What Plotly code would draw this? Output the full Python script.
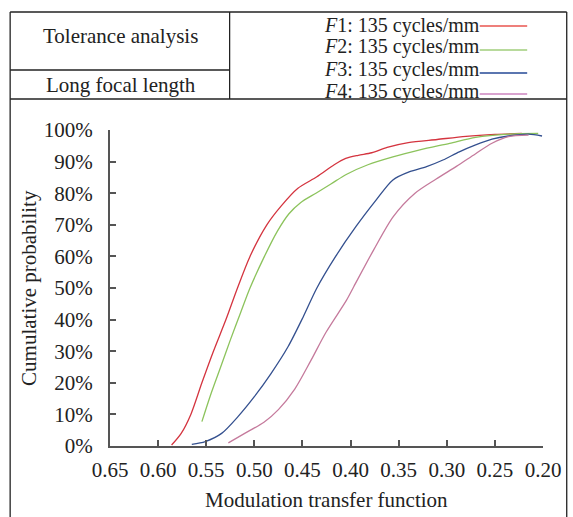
import plotly.graph_objects as go

# ---- data ----
f1_x = [0.586, 0.576, 0.566, 0.5545, 0.5425, 0.5295, 0.5175, 0.5045, 0.487, 0.472, 0.455,
        0.435, 0.417, 0.405, 0.392, 0.378, 0.362, 0.340, 0.310, 0.280, 0.250, 0.222]
f1_y = [0.3, 4.0, 10.0, 20.0, 30.0, 40.0, 50.0, 60.0, 70.0, 76.0, 81.5,
        85.2, 89.0, 91.0, 92.0, 92.8, 94.5, 96.0, 97.0, 98.0, 98.6, 98.9]

f2_x = [0.5545, 0.5445, 0.535, 0.525, 0.5145, 0.5045, 0.4895, 0.476, 0.464, 0.452, 0.436,
        0.420, 0.404, 0.382, 0.356, 0.328, 0.297, 0.270, 0.236, 0.205]
f2_y = [7.7, 17.0, 25.0, 33.5, 42.0, 50.0, 60.0, 68.0, 73.5, 77.0, 80.0,
        83.0, 86.0, 89.0, 91.5, 93.7, 95.8, 97.7, 98.7, 98.9]

f3_x = [0.565, 0.551, 0.534, 0.517, 0.500, 0.4825, 0.465, 0.449, 0.435, 0.4155, 0.3945,
        0.3735, 0.356, 0.3385, 0.321, 0.304, 0.287, 0.270, 0.253, 0.236, 0.215, 0.201]
f3_y = [0.5, 1.4, 4.0, 9.3, 15.6, 23.0, 31.4, 41.0, 50.0, 60.0, 69.4,
        77.8, 84.2, 86.8, 88.4, 90.5, 93.1, 95.3, 97.1, 98.1, 98.7, 98.1]

f4_x = [0.527, 0.510, 0.490, 0.475, 0.458, 0.4413, 0.4255, 0.4045, 0.3967, 0.3761, 0.3556,
        0.333, 0.311, 0.290, 0.270, 0.253, 0.236, 0.215]
f4_y = [1.0, 4.0, 7.5, 11.5, 18.0, 27.0, 36.0, 46.0, 50.4, 62.0, 72.6,
        80.0, 84.5, 88.5, 92.5, 95.8, 97.9, 98.4]

x_ticks = [0.65, 0.60, 0.55, 0.50, 0.45, 0.40, 0.35, 0.30, 0.25, 0.20]
x_tick_labels = ["0.65", "0.60", "0.55", "0.50", "0.45", "0.40", "0.35", "0.30", "0.25", "0.20"]
y_ticks = [0, 10, 20, 30, 40, 50, 60, 70, 80, 90, 100]
y_tick_labels = [f"{v}%" for v in y_ticks]

series_names = ["<i>F</i>1: 135 cycles/mm", "<i>F</i>2: 135 cycles/mm",
                "<i>F</i>3: 135 cycles/mm", "<i>F</i>4: 135 cycles/mm"]
curve_colors = ["#d4343f", "#8cc35c", "#34508f", "#c57a9c"]
legend_colors = ["#ee7f7b", "#b8da9c", "#5b76b0", "#d9a3cf"]

# ---- layout geometry (pixels) ----
FW, FH = 573, 517
L, T, W, H = 110, 130, 438, 316
FONT = "Liberation Serif"
INK = "#222222"


def X(px):
    return (px - L) / W


def Y(py):
    return (T + H - py) / H


fig = go.Figure()
for xs, ys, c, n in zip([f1_x, f2_x, f3_x, f4_x], [f1_y, f2_y, f3_y, f4_y], curve_colors, series_names):
    fig.add_trace(go.Scatter(x=xs, y=ys, mode="lines", name=n,
                             line=dict(color=c, width=1.3, shape="spline", smoothing=0.8),
                             showlegend=False))

shapes = []
box_line = dict(color=INK, width=1.3)
shapes.append(dict(type="line", xref="paper", yref="paper", x0=X(9), x1=X(572), y0=Y(12), y1=Y(12), line=box_line))
shapes.append(dict(type="line", xref="paper", yref="paper", x0=X(9), x1=X(572), y0=Y(99), y1=Y(99), line=box_line))
shapes.append(dict(type="line", xref="paper", yref="paper", x0=X(9), x1=X(231), y0=Y(70), y1=Y(70), line=box_line))
shapes.append(dict(type="line", xref="paper", yref="paper", x0=X(231), x1=X(231), y0=Y(12), y1=Y(99), line=box_line))
shapes.append(dict(type="line", xref="paper", yref="paper", x0=X(9), x1=X(9), y0=Y(12), y1=Y(520), line=box_line))
shapes.append(dict(type="line", xref="paper", yref="paper", x0=X(572), x1=X(572), y0=Y(12), y1=Y(520), line=box_line))

annotations = []
annotations.append(dict(text="Tolerance analysis", xref="paper", yref="paper", x=X(121), y=Y(36),
                        showarrow=False, xanchor="center", yanchor="middle",
                        font=dict(family=FONT, size=21, color=INK)))
annotations.append(dict(text="Long focal length", xref="paper", yref="paper", x=X(121), y=Y(85),
                        showarrow=False, xanchor="center", yanchor="middle",
                        font=dict(family=FONT, size=21, color=INK)))

line_ys = [26, 50, 73, 94]
text_ys = [25, 47, 69, 91]
for n, c, ly, ty in zip(series_names, legend_colors, line_ys, text_ys):
    annotations.append(dict(text=n, xref="paper", yref="paper", x=X(486), y=Y(ty),
                            showarrow=False, xanchor="right", yanchor="middle",
                            font=dict(family=FONT, size=20, color=INK)))
    shapes.append(dict(type="line", xref="paper", yref="paper", x0=X(484), x1=X(532),
                       y0=Y(ly), y1=Y(ly), line=dict(color=c, width=2.2)))

annotations.append(dict(text="Modulation transfer function", xref="paper", yref="paper",
                        x=X(329), y=Y(500), showarrow=False, xanchor="center", yanchor="middle",
                        font=dict(family=FONT, size=21, color=INK)))
annotations.append(dict(text="Cumulative probability", xref="paper", yref="paper",
                        x=X(28), y=Y(288), showarrow=False, xanchor="center", yanchor="middle",
                        textangle=-90, font=dict(family=FONT, size=21, color=INK)))

axis_color = "#555555"
fig.update_layout(
    width=FW, height=FH,
    margin=dict(l=L, r=FW - L - W, t=T, b=FH - T - H, pad=0),
    paper_bgcolor="white", plot_bgcolor="white",
    font=dict(family=FONT, color=INK),
    shapes=shapes, annotations=annotations,
    xaxis=dict(range=[0.65, 0.20], tickvals=x_ticks, ticktext=x_tick_labels,
               showgrid=False, zeroline=False, showline=True, linecolor=axis_color, linewidth=2,
               ticks="inside", ticklen=6, tickwidth=2, tickcolor=axis_color,
               ticklabelstandoff=4,
               tickfont=dict(family=FONT, size=21, color=INK)),
    yaxis=dict(range=[0, 100], tickvals=y_ticks, ticktext=y_tick_labels,
               showgrid=False, zeroline=False, showline=True, linecolor=axis_color, linewidth=2,
               ticks="inside", ticklen=6, tickwidth=2, tickcolor=axis_color,
               ticklabelstandoff=11,
               tickfont=dict(family=FONT, size=21, color=INK)),
)

fig.write_html("out.html", config={"displayModeBar": False},
               post_script="document.body.style.margin='0px';document.body.style.overflow='hidden';")
